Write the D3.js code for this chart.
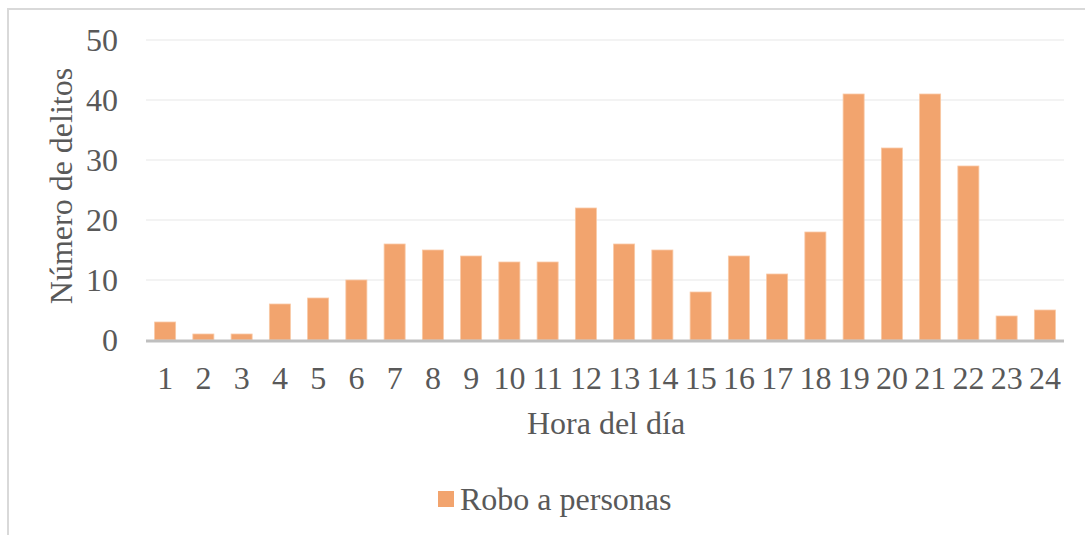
<!DOCTYPE html>
<html>
<head>
<meta charset="utf-8">
<script src="https://cdn.jsdelivr.net/npm/d3@7"></script>
<style>
  html, body { margin: 0; padding: 0; background: #fff; }
  svg { display: block; }
  svg text { font-family: 'Liberation Serif', 'Times New Roman', serif !important; fill: #595959; }
</style>
</head>
<body>
<svg id="chart" width="1085" height="535"></svg>
<script>
const categories = ["1","2","3","4","5","6","7","8","9","10","11","12","13","14","15","16","17","18","19","20","21","22","23","24"];
const values = [3,1,1,6,7,10,16,15,14,13,13,22,16,15,8,14,11,18,41,32,41,29,4,5];
const yTicks = [0,10,20,30,40,50];
const seriesName = "Robo a personas";
const xTitle = "Hora del día";
const yTitle = "Número de delitos";

(function () {
const svg = d3.select("#chart");
const W = 1085, H = 535;
const pLeft = 146, pRight = 1064, pTop = 40, pBottom = 340;
const barColor = "#F2A46E";
const FS = 32;
const FF = "'Liberation Serif', 'Times New Roman', serif";

// border
svg.append("path")
  .attr("d", `M8,${H} L8,9 L${W},9`)
  .attr("fill", "none").attr("stroke", "#d9d9d9").attr("stroke-width", 2);

const x = d3.scaleBand().domain(categories).range([pLeft, pRight]).paddingInner(0.45).paddingOuter(0.225);
const y = d3.scaleLinear().domain([0, 50]).range([pBottom, pTop]);

// gridlines
svg.append("g").selectAll("line").data(yTicks.filter(d => d > 0)).join("line")
  .attr("x1", pLeft).attr("x2", pRight)
  .attr("y1", d => y(d)).attr("y2", d => y(d))
  .attr("stroke", "#efefef").attr("stroke-width", 1.5);

// y axis labels
const yAxis = d3.axisLeft(y).tickValues(yTicks).tickSize(0).tickPadding(0);
const gy = svg.append("g").attr("transform", `translate(118,0)`).call(yAxis);
gy.select(".domain").remove();
gy.attr("font-family", null).attr("font-size", null);
gy.selectAll("text").style("font-family", FF).style("font-size", FS + "px")
  .attr("fill", "#595959").attr("dy", "0.33em").attr("x", 0).attr("text-anchor", "end");

// bars
svg.append("g").selectAll("rect").data(values).join("rect")
  .attr("x", (d, i) => x(categories[i]))
  .attr("width", x.bandwidth())
  .attr("y", d => y(d))
  .attr("height", d => y(0) - y(d))
  .attr("fill", barColor)
  .attr("stroke", "#f9c9a6").attr("stroke-width", 0.8);

// x axis
const xAxis = d3.axisBottom(x).tickSize(0).tickPadding(0);
const gx = svg.append("g").attr("transform", `translate(0,${pBottom})`).call(xAxis);
gx.select(".domain").remove();
gx.attr("font-family", null).attr("font-size", null);
gx.selectAll("text").style("font-family", FF).style("font-size", FS + "px")
  .attr("fill", "#595959").attr("y", 49).attr("dy", 0);
svg.append("line").attr("x1", pLeft).attr("x2", pRight).attr("y1", pBottom + 1).attr("y2", pBottom + 1)
  .attr("stroke", "#bfbfbf").attr("stroke-width", 3);

// axis titles
svg.append("text").attr("x", 606).attr("y", 434).attr("text-anchor", "middle")
  .style("font-family", FF).style("font-size", FS + "px").text(xTitle);
svg.append("text").attr("transform", "translate(72,186) rotate(-90)").attr("text-anchor", "middle")
  .style("font-family", FF).style("font-size", FS + "px").text(yTitle);

// legend
svg.append("rect").attr("x", 438).attr("y", 491).attr("width", 16).attr("height", 16).attr("fill", barColor);
svg.append("text").attr("x", 460).attr("y", 510)
  .style("font-family", FF).style("font-size", FS + "px").text(seriesName);
})();
</script>
</body>
</html>
